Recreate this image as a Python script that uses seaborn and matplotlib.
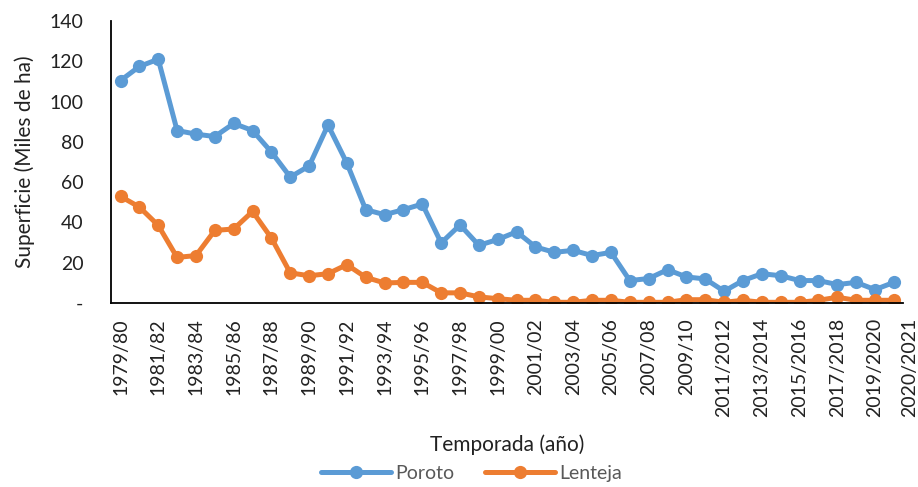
import numpy as np
import pandas as pd
import matplotlib
matplotlib.use("Agg")
import matplotlib.pyplot as plt
import seaborn as sns

# Temporadas (1979/80 - 2020/2021)
seasons = [
    "1979/80", "1980/81", "1981/82", "1982/83", "1983/84", "1984/85", "1985/86",
    "1986/87", "1987/88", "1988/89", "1989/90", "1990/91", "1991/92", "1992/93",
    "1993/94", "1994/95", "1995/96", "1996/97", "1997/98", "1998/99", "1999/00",
    "2000/01", "2001/02", "2002/03", "2003/04", "2004/05", "2005/06", "2006/07",
    "2007/08", "2008/09", "2009/10", "2010/11", "2011/2012", "2012/2013",
    "2013/2014", "2014/2015", "2015/2016", "2016/2017", "2017/2018",
    "2018/2019", "2019/2020", "2020/2021",
]

# Superficie (miles de ha)
poroto = [
    110.4, 117.4, 121.0, 85.6, 83.8, 82.6, 89.1, 85.6, 74.9, 62.5, 68.0,
    88.3, 69.4, 46.3, 43.8, 46.3, 49.1, 29.8, 38.7, 28.6, 31.5, 35.3,
    27.8, 25.1, 26.1, 23.5, 25.1, 11.1, 12.1, 16.5, 12.9, 11.9, 5.8,
    11.1, 14.5, 13.5, 11.1, 11.1, 9.1, 10.2, 6.6, 10.2,
]
lenteja = [
    52.9, 47.6, 38.5, 22.6, 23.5, 36.0, 36.7, 45.4, 32.2, 14.9, 13.5,
    14.5, 19.0, 12.7, 9.9, 10.2, 10.2, 5.0, 5.0, 3.0, 2.1, 1.3,
    1.3, 0.3, 0.3, 1.3, 1.3, 0.3, 0.3, 0.3, 1.6, 1.6, 0.3,
    1.3, 0.3, 0.3, 0.3, 1.3, 2.8, 1.3, 1.3, 1.3,
]

y_ticks = [0, 20, 40, 60, 80, 100, 120, 140]
y_tick_labels = ["-", "20", "40", "60", "80", "100", "120", "140"]

df = pd.DataFrame({
    "Temporada": seasons * 2,
    "Superficie": poroto + lenteja,
    "Cultivo": ["Poroto"] * len(seasons) + ["Lenteja"] * len(seasons),
})
df["pos"] = df["Temporada"].map({s: i for i, s in enumerate(seasons)})

sns.set_theme(style="white")
plt.rcParams["font.family"] = ["Lato", "DejaVu Sans"]

fig = plt.figure(figsize=(9.18, 4.87), dpi=100)
ax = fig.add_axes([0.121, 0.378, 0.863, 0.579])

sns.lineplot(data=df, x="pos", y="Superficie", hue="Cultivo",
             palette={"Poroto": "#5B9BD5", "Lenteja": "#ED7D31"},
             marker="o", markersize=9.5, markeredgewidth=0, linewidth=3.6,
             ax=ax)

ax.set_xlim(-0.5, len(seasons) - 0.5)
ax.set_ylim(0, 140)
ax.set_yticks(y_ticks)
ax.set_yticklabels(y_tick_labels, fontsize=14, color="#222222")

# etiquetas cada dos temporadas; la ultima va aparte (desplazada en el original)
tick_idx = list(range(0, len(seasons) - 1, 2))
ax.set_xticks(tick_idx)
ax.set_xticklabels([seasons[i] for i in tick_idx], rotation=90, fontsize=14,
                   color="#222222")
ax.annotate(seasons[-1], xy=(len(seasons) - 1, 0), xycoords="data",
            xytext=(11, -11), textcoords="offset points", rotation=90,
            ha="center", va="top", fontsize=14, color="#222222",
            annotation_clip=False)

ax.tick_params(axis="y", length=5, width=1, color="black", pad=15, direction="out")
ax.tick_params(axis="x", length=0, pad=11)

for side in ["top", "right"]:
    ax.spines[side].set_visible(False)
for side in ["left", "bottom"]:
    ax.spines[side].set_color("black")
    ax.spines[side].set_linewidth(1.3)

ax.set_ylabel("Superficie (Miles de ha)", fontsize=15, color="#222222", labelpad=10)
ax.set_xlabel("Temporada (año)", fontsize=15, color="#222222", labelpad=12)

leg = ax.legend(loc="center", bbox_to_anchor=(0.455, -0.605), ncol=2,
                frameon=False, fontsize=14, handlelength=3.6,
                columnspacing=1.6, handletextpad=0.2, borderpad=0.1)
for t in leg.get_texts():
    t.set_color("#595959")

fig.savefig("out.png", dpi=100)
